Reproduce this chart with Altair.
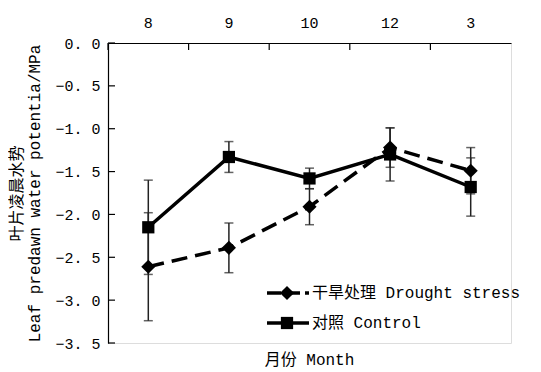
import altair as alt
import pandas as pd

months = ["8", "9", "10", "12", "3"]
drought_mean = [-2.61, -2.39, -1.91, -1.22, -1.49]
drought_err = [0.63, 0.29, 0.21, 0.23, 0.27]
control_mean = [-2.15, -1.33, -1.58, -1.30, -1.68]
control_err = [0.55, 0.18, 0.12, 0.31, 0.34]
series_names = ["干旱处理 Drought stress", "对照 Control"]
y_ticks = [0.0, -0.5, -1.0, -1.5, -2.0, -2.5, -3.0, -3.5]

FONT = "'Liberation Mono', 'Noto Sans CJK SC'"

rows = []
for name, means, errs in [(series_names[0], drought_mean, drought_err),
                          (series_names[1], control_mean, control_err)]:
    for m, v, e in zip(months, means, errs):
        rows.append({"month": m, "series": name, "value": v,
                     "lo": v - e, "hi": v + e})
df = pd.DataFrame(rows)
dfd = df[df.series == series_names[0]]
dfc = df[df.series == series_names[1]]

xenc = alt.X("month:N", sort=months,
             scale=alt.Scale(paddingInner=0, paddingOuter=0),
             axis=alt.Axis(orient="top", title=None, ticks=False, labelAngle=0,
                           labelFont=FONT, labelFontSize=15, labelColor="black",
                           labelPadding=13, domainColor="black", domainWidth=1.2))
yscale = alt.Scale(domain=[-3.5, 0], nice=False, zero=False)
yenc = alt.Y("value:Q", scale=yscale,
             axis=alt.Axis(values=y_ticks, ticks=False, grid=False,
                           labelExpr="replace(format(datum.value, '.1f'), '.', '. ')",
                           labelFont=FONT, labelFontSize=15, labelColor="black",
                           labelPadding=8, domainColor="black", domainWidth=1.2,
                           title=["叶片凌晨水势", "Leaf predawn water potentia/MPa"],
                           titleFont=FONT, titleFontSize=16, titleFontWeight="normal",
                           titleColor="black", titleLineHeight=18, titlePadding=12))

base = alt.Chart(df)

err_rule = base.mark_rule(color="#222", strokeWidth=1.5).encode(
    x=alt.X("month:N", sort=months), y=alt.Y("lo:Q", scale=yscale), y2="hi:Q")
err_lo = base.mark_tick(color="#222", thickness=1.5, size=9).encode(
    x=alt.X("month:N", sort=months), y=alt.Y("lo:Q", scale=yscale))
err_hi = base.mark_tick(color="#222", thickness=1.5, size=9).encode(
    x=alt.X("month:N", sort=months), y=alt.Y("hi:Q", scale=yscale))

line_d = alt.Chart(dfd).mark_line(color="black", strokeWidth=3.5,
                                  strokeDash=[16, 8]).encode(x=xenc, y=yenc)
line_c = alt.Chart(dfc).mark_line(color="black", strokeWidth=3.5).encode(
    x=alt.X("month:N", sort=months), y=alt.Y("value:Q", scale=yscale))
pts_d = alt.Chart(dfd).mark_point(shape="diamond", filled=True, color="black",
                                  size=200, opacity=1).encode(
    x=alt.X("month:N", sort=months), y=alt.Y("value:Q", scale=yscale))
pts_c = alt.Chart(dfc).mark_point(shape="square", filled=True, color="black",
                                  size=150, opacity=1).encode(
    x=alt.X("month:N", sort=months), y=alt.Y("value:Q", scale=yscale))

# inward axis ticks
xt = alt.Chart(pd.DataFrame({"month": months})).mark_rule(
    color="black", strokeWidth=1.2).encode(
    x=alt.X("month:N", sort=months, bandPosition=0),
    y=alt.value(0), y2=alt.value(7))
yt = alt.Chart(pd.DataFrame({"t": y_ticks})).mark_rule(
    color="black", strokeWidth=1.2).encode(
    y=alt.Y("t:Q", scale=yscale), x=alt.value(0), x2=alt.value(7))

# legend (drawn manually)
leg_y = [250, 280]
leg_d_line = alt.Chart(pd.DataFrame({"a": [0]})).mark_rule(
    color="black", strokeWidth=3.5, strokeDash=[14, 5]).encode(
    x=alt.value(159), x2=alt.value(201), y=alt.value(leg_y[0]))
leg_c_line = alt.Chart(pd.DataFrame({"a": [0]})).mark_rule(
    color="black", strokeWidth=3.5).encode(
    x=alt.value(159), x2=alt.value(201), y=alt.value(leg_y[1]))
leg_d_pt = alt.Chart(pd.DataFrame({"a": [0]})).mark_point(
    shape="diamond", filled=True, color="black", size=200, opacity=1).encode(
    x=alt.value(179), y=alt.value(leg_y[0]))
leg_c_pt = alt.Chart(pd.DataFrame({"a": [0]})).mark_point(
    shape="square", filled=True, color="black", size=150, opacity=1).encode(
    x=alt.value(179), y=alt.value(leg_y[1]))
leg_txt = alt.Chart(pd.DataFrame({"label": series_names, "ypos": leg_y})).mark_text(
    align="left", baseline="middle", font=FONT, fontSize=16, color="black").encode(
    x=alt.value(204), y=alt.Y("ypos:Q", scale=None), text="label:N")

chart = alt.layer(
    line_d, line_c, err_rule, err_lo, err_hi, pts_d, pts_c, xt, yt,
    leg_d_line, leg_c_line, leg_d_pt, leg_c_pt, leg_txt
).properties(
    width=403, height=300,
    title=alt.TitleParams("月份 Month", orient="bottom", font=FONT, fontSize=16,
                          fontWeight="normal", color="black", offset=1),
    autosize=alt.AutoSizeParams(type="none"),
    padding={"left": 100, "top": 35, "right": 22, "bottom": 29},
).configure_view(stroke=None).configure(background="white")

chart.save("out.html", embed_options={"renderer": "svg", "actions": False})
